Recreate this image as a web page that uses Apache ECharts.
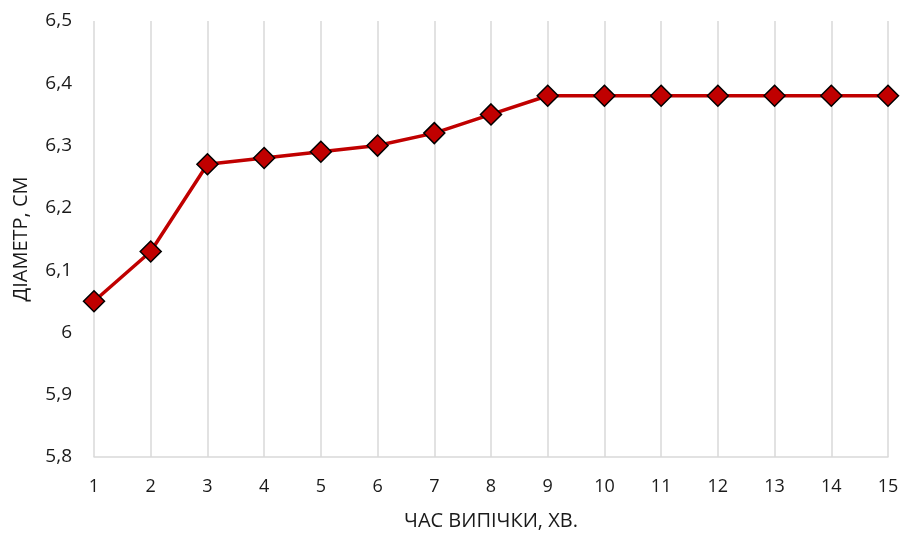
<!DOCTYPE html>
<html><head><meta charset="utf-8">
<script src="https://cdn.jsdelivr.net/npm/echarts@6/dist/echarts.min.js"></script>
<style>html,body{margin:0;padding:0;background:#fff}#c{width:901px;height:533px}</style>
</head><body><div id="c"></div>
<script>
const categories = ['1','2','3','4','5','6','7','8','9','10','11','12','13','14','15'];
const diameter = [6.05, 6.13, 6.27, 6.28, 6.29, 6.30, 6.32, 6.35, 6.38, 6.38, 6.38, 6.38, 6.38, 6.38, 6.38];
const xTitle = 'ЧАС ВИПІЧКИ, ХВ.';
const yTitle = 'ДІАМЕТР, СМ';
const FONT = '"Open Sans", "Noto Sans", sans-serif';
const chart = echarts.init(document.getElementById('c'));
chart.setOption({
  animation: false,
  grid: {left: 94, right: 13, top: 21, bottom: 76, containLabel: false, outerBoundsMode: 'none'},
  xAxis: {
    type: 'category', data: categories, boundaryGap: false,
    name: xTitle, nameLocation: 'middle', nameGap: 54,
    nameTextStyle: {fontFamily: FONT, fontSize: 20, color: '#1a1a1a'},
    axisLine: {lineStyle: {color: '#d9d9d9', width: 1.5}},
    axisTick: {show: false},
    axisLabel: {fontFamily: FONT, fontSize: 18, color: '#1a1a1a', margin: 21},
    splitLine: {show: true, lineStyle: {color: '#d9d9d9', width: 1.5}}
  },
  yAxis: {
    type: 'value', min: 5.8, max: 6.5, interval: 0.1,
    name: yTitle, nameLocation: 'middle', nameGap: 63, nameRotate: 90,
    nameTextStyle: {fontFamily: FONT, fontSize: 20, color: '#1a1a1a'},
    axisLine: {show: false}, axisTick: {show: false},
    splitLine: {show: false},
    axisLabel: {fontFamily: FONT, fontSize: 19, color: '#1a1a1a', margin: 22,
      formatter: v => String(Math.round(v * 10) / 10).replace('.', ',')}
  },
  series: [{
    type: 'line', data: diameter,
    lineStyle: {color: '#C00000', width: 3.5},
    symbol: 'diamond', symbolSize: 21,
    itemStyle: {color: '#C00000', borderColor: '#000', borderWidth: 1.5}
  }]
});
</script></body></html>
